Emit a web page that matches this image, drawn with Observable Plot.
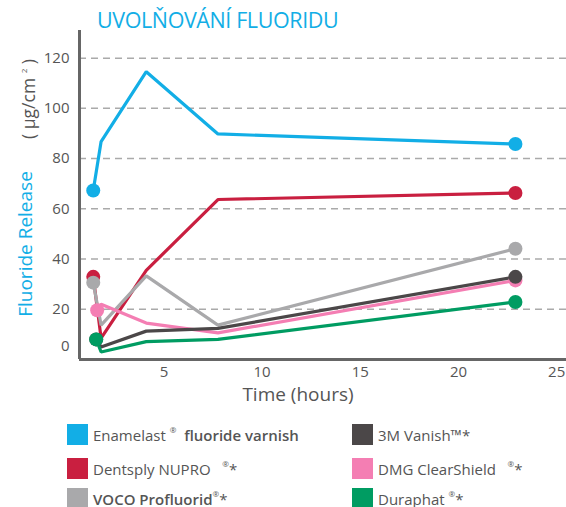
<!DOCTYPE html>
<html><head><meta charset="utf-8">
<script src="https://cdn.jsdelivr.net/npm/d3@7"></script>
<script src="https://cdn.jsdelivr.net/npm/@observablehq/plot@0.6"></script>
<style>
body{margin:0;background:#fff;font-family:"Open Sans",sans-serif;}
#wrap{position:relative;width:566px;height:507px;overflow:hidden;}
#title{position:absolute;left:97px;top:5px;font-size:21.5px;color:#12AEE6;white-space:nowrap;letter-spacing:-0.4px;}
#chart{position:absolute;left:0;top:30px;}
.ylab{position:absolute;white-space:nowrap;transform:translate(-50%,-50%) rotate(-90deg);}
#ylab1{left:25px;top:244px;font-size:19px;color:#12AEE6;}
#ylab2{left:28px;top:99px;font-size:17.5px;color:#555;}
#xlab{position:absolute;left:298px;top:394px;transform:translate(-50%,-50%);font-size:19px;color:#555;white-space:nowrap;}
.leg{position:absolute;height:21px;display:flex;align-items:center;font-size:15px;color:#555;white-space:nowrap;}
.sw{width:21px;height:21px;margin-right:5px;flex:none;}
sup{font-size:8px;vertical-align:8px;}
</style></head><body>
<div id="wrap">
<div id="title">UVOLŇOVÁNÍ FLUORIDU</div>
<div id="chart"></div>
<div class="ylab" id="ylab1">Fluoride Release</div>
<div class="ylab" id="ylab2">( µg/cm <sup>2</sup> )</div>
<div id="xlab">Time (hours)</div>
<div id="legend"></div>
</div>
<script>
// series in drawing order
const series = ["Dentsply NUPRO", "VOCO Profluorid", "DMG ClearShield", "3M Vanish", "Duraphat", "Enamelast"];
const colors = ["#C91F40", "#A9A9AB", "#F47EB3", "#4B4748", "#009C62", "#12AEE6"];
const firstHours = [1.4, 1.4, 1.6, 1.55, 1.55, 1.4];
const laterHours = [1.8, 4.1, 7.75, 22.9];
const nupro = [32.9, 8.5, 35.5, 63.7, 66.3];
const voco = [30.6, 13.7, 33.3, 13.7, 44.1];
const clearshield = [19.6, 22, 14.5, 10.6, 31.5];
const vanish = [8, 5, 11.3, 12.4, 32.9];
const duraphat = [8, 3, 7.1, 8, 22.9];
const enamelast = [67.3, 86.8, 114.6, 89.8, 85.8];
const values = [nupro, voco, clearshield, vanish, duraphat, enamelast];
const yTicks = [20, 40, 60, 80, 100, 120];
const zeroTick = [0];
const xTicks = [5, 10, 15, 20, 25];
const xDomain = [0.7, 25.5];
const yDomain = [0, 131];

// legend layout (label html, series, column, row)
const legendItems = [
  ["Enamelast <sup>®</sup>&nbsp; <b style='font-weight:600'>fluoride varnish</b>", "Enamelast", 0, 0],
  ["3M Vanish™*", "3M Vanish", 1, 0],
  ["Dentsply NUPRO &nbsp;&nbsp;<sup>®</sup>*", "Dentsply NUPRO", 0, 1],
  ["DMG ClearShield &nbsp;&nbsp;<sup>®</sup>*", "DMG ClearShield", 1, 1],
  ["<b style='font-weight:600'>VOCO Profluorid</b><sup>®</sup>*", "VOCO Profluorid", 0, 2],
  ["Duraphat <sup>®</sup>*", "Duraphat", 1, 2]
];

const data = [];
series.forEach((s, i) => {
  const hrs = [firstHours[i], ...laterHours];
  values[i].forEach((v, j) => data.push({series: s, hour: hrs[j], value: v, end: j === 0 || j === hrs.length - 1}));
});

const chart = Plot.plot({
  width: 566, height: 380,
  marginLeft: 79, marginRight: 0, marginTop: 0, marginBottom: 51,
  style: {fontFamily: "'Open Sans', sans-serif", background: "transparent"},
  x: {domain: xDomain},
  y: {domain: yDomain},
  color: {domain: series, range: colors},
  marks: [
    Plot.gridY(yTicks, {stroke: "#aaa", strokeOpacity: 1, strokeWidth: 1.5, strokeDasharray: "7,5"}),
    Plot.axisY({ticks: yTicks, tickSize: 0, tickPadding: 10, fontSize: 15, fill: "#555", label: null}),
    Plot.text(zeroTick, {y: d => d, text: d => String(d), frameAnchor: "left", textAnchor: "end", dx: -10, dy: -13, fontSize: 15, fill: "#555"}),
    Plot.axisX({ticks: xTicks, tickSize: 0, tickPadding: 7, fontSize: 15, fill: "#555", label: null}),
    Plot.line(data, {x: "hour", y: "value", z: "series", stroke: "series", strokeWidth: 3.2, strokeLinejoin: "miter"}),
    Plot.dot(data.filter(d => d.end), {x: "hour", y: "value", fill: "series", r: 7}),
    Plot.ruleX([xDomain[0]], {stroke: "#666", strokeWidth: 3}),
    Plot.ruleY([yDomain[0]], {stroke: "#666", strokeWidth: 3})
  ]
});
document.getElementById("chart").appendChild(chart);

const leg = document.getElementById("legend");
const colX = [67, 352], rowY = [424, 458, 488];
legendItems.forEach(([html, name, col, row]) => {
  const el = document.createElement("div");
  el.className = "leg";
  el.style.left = colX[col] + "px";
  el.style.top = rowY[row] + "px";
  el.innerHTML = `<div class="sw" style="background:${colors[series.indexOf(name)]}"></div><span>${html}</span>`;
  leg.appendChild(el);
});
</script>
</body></html>
